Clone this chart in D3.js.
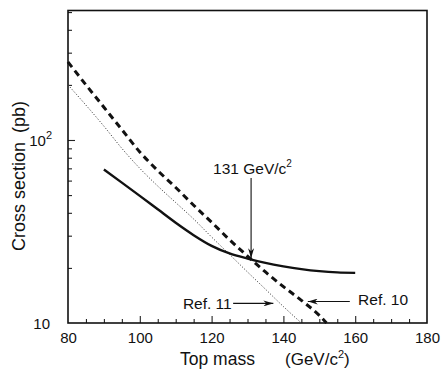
<!DOCTYPE html>
<html>
<head>
<meta charset="utf-8">
<script src="https://cdn.jsdelivr.net/npm/d3@7"></script>
<style>
  body { margin: 0; background: #fff; }
  text { font-family: "Liberation Sans", Arial, sans-serif; fill: #111; }
</style>
</head>
<body>
<div id="graph"></div>
<script>
//Data (top mass in GeV/c^2, cross section in pb)
const solidMass = [90, 95, 100, 105, 110, 115, 120, 125, 130, 135, 140, 145, 150, 155, 160];
const solidXsec = [69, 58.5, 49.5, 41.8, 35.3, 30.2, 26.4, 24, 22.5, 21.3, 20.4, 19.7, 19.2, 18.9, 18.8];

const ref10Mass = [80, 85, 90, 95, 100, 105, 110, 115, 120, 125, 130, 135, 140, 145, 150, 152];
const ref10Xsec = [267, 200, 151, 114, 86, 68, 55, 44, 35.5, 28.5, 23.2, 19, 15.8, 13.3, 11, 10];

const ref11Mass = [80, 85, 90, 95, 100, 105, 110, 115, 120, 125, 130, 135, 140, 145];
const ref11Xsec = [200, 155, 119, 90, 70, 56, 45.5, 37, 29.5, 23.7, 19, 15.3, 12.3, 10];

const xTickValues = [80, 100, 120, 140, 160, 180];
const yTickValues = [10, 100];

//Annotations: label, text anchor point, arrow from/to (data coords)
const notes = [
  {label: '131 GeV/c', sup: '2', tx: 120.4, ty: 65, anchor: 'start', from: [131, 62], to: [131, 22.6]},
  {label: 'Ref. 11', sup: '', tx: 125.6, ty: 11.9, anchor: 'end', from: [126, 12.8], to: [137.2, 12.8]},
  {label: 'Ref. 10', sup: '', tx: 160.8, ty: 12.5, anchor: 'start', from: [158.5, 13.1], to: [146.8, 13.1]}
];

//General config
const W = 443, H = 371;
const margin = {top: 10.5, right: 16, bottom: 48, left: 68};
const width = W - margin.left - margin.right;
const height = H - margin.top - margin.bottom;

const x = d3.scaleLinear().domain([80, 180]).range([0, width]);
const y = d3.scaleLog().domain([10, 510]).range([height, 0]);

const svg = d3.select('#graph').append('svg')
    .attr('width', W)
    .attr('height', H);

svg.append('defs').append('marker')
    .attr('id', 'arrow')
    .attr('viewBox', '0 0 10 6')
    .attr('refX', 10).attr('refY', 3)
    .attr('markerWidth', 10).attr('markerHeight', 6)
    .attr('markerUnits', 'userSpaceOnUse')
    .attr('orient', 'auto')
    .append('path')
    .attr('d', 'M0,0 L10,3 L0,6 L3,3 Z')
    .attr('fill', '#111');

const group = svg.append('g')
    .attr('transform', `translate(${margin.left}, ${margin.top})`);

//Minor / major ticks on x (inward)
const xMinor = d3.range(85, 180, 5);
group.append('g')
    .attr('transform', `translate(0, ${height})`)
    .call(d3.axisBottom(x).tickValues(xMinor).tickSize(-4).tickFormat(''))
    .call(g => g.select('.domain').remove())
    .call(g => g.selectAll('line').attr('stroke', '#222').attr('stroke-width', 1.1)
        .attr('y2', d => d % 20 === 0 ? -7 : -4));

const xAxis = group.append('g')
    .attr('transform', `translate(0, ${height})`)
    .call(d3.axisBottom(x).tickValues(xTickValues).tickSize(0).tickPadding(9));
xAxis.select('.domain').remove();
xAxis.selectAll('text').attr('font-size', 15).attr('fill', '#111')
    .attr('font-family', '"Liberation Sans", Arial, sans-serif');

//y ticks (inward)
const yMinor = [20, 30, 40, 50, 60, 70, 80, 90, 100, 200, 300, 400, 500];
group.append('g')
    .call(d3.axisLeft(y).tickValues(yMinor).tickSize(-4).tickFormat(''))
    .call(g => g.select('.domain').remove())
    .call(g => g.selectAll('line').attr('stroke', '#222').attr('stroke-width', 1.1)
        .attr('x2', d => d === 100 ? 7 : 4));

const yLab = group.selectAll('.ylab')
    .data(yTickValues)
    .enter()
    .append('text')
    .attr('class', 'ylab')
    .attr('x', d => d === 10 ? -18 : -16)
    .attr('y', d => y(d) + 6)
    .attr('text-anchor', 'end')
    .attr('font-size', 15);
yLab.append('tspan').text('10');
yLab.filter(d => d === 100).append('tspan')
    .attr('font-size', 11).attr('dy', -7).text('2');

//Frame
group.append('rect')
    .attr('width', width).attr('height', height)
    .attr('fill', 'none').attr('stroke', '#111').attr('stroke-width', 1.6);

//Lines
const line = d3.line()
    .x(d => x(d[0]))
    .y(d => y(d[1]))
    .curve(d3.curveMonotoneX);

const zip = (a, b) => a.map((v, i) => [v, b[i]]);

group.append('path')
    .attr('d', line(zip(ref11Mass, ref11Xsec)))
    .attr('fill', 'none').attr('stroke', '#444')
    .attr('stroke-width', 1).attr('stroke-dasharray', '1.2,1.8');

group.append('path')
    .attr('d', line(zip(ref10Mass, ref10Xsec)))
    .attr('fill', 'none').attr('stroke', '#111')
    .attr('stroke-width', 3).attr('stroke-dasharray', '6.5,4.5');

group.append('path')
    .attr('d', line(zip(solidMass, solidXsec)))
    .attr('fill', 'none').attr('stroke', '#111')
    .attr('stroke-width', 2.4);

//Annotations
notes.forEach(n => {
    group.append('line')
        .attr('x1', x(n.from[0])).attr('y1', y(n.from[1]))
        .attr('x2', x(n.to[0])).attr('y2', y(n.to[1]))
        .attr('stroke', '#111').attr('stroke-width', 1.1)
        .attr('marker-end', 'url(#arrow)');
    const t = group.append('text')
        .attr('x', x(n.tx)).attr('y', y(n.ty))
        .attr('text-anchor', n.anchor)
        .attr('font-size', 15.5);
    t.append('tspan').text(n.label);
    if (n.sup) t.append('tspan').attr('font-size', 10).attr('dy', -7).text(n.sup);
});

//Axis titles
const xt = svg.append('text')
    .attr('x', 180).attr('y', 365)
    .attr('font-size', 17.5);
xt.append('tspan').text('Top mass');
xt.append('tspan').attr('x', 285).attr('font-size', 17).text('(GeV/c');
xt.append('tspan').attr('font-size', 11).attr('dy', -7).text('2');
xt.append('tspan').attr('font-size', 17).attr('dy', 7).text(')');

svg.append('text')
    .attr('transform', 'translate(25, 251) rotate(-90)')
    .attr('font-size', 18)
    .text('Cross section\u2002(pb)');
</script>
</body>
</html>
